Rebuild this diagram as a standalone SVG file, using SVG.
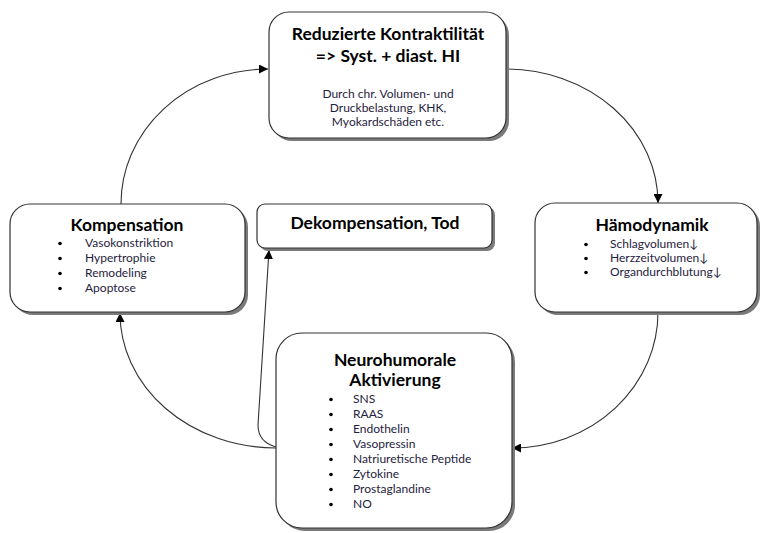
<svg xmlns="http://www.w3.org/2000/svg" width="763" height="533" viewBox="0 0 763 533">
<style>
.box{fill:#fff;stroke:#333;stroke-width:1.2}
.sh{fill:#7a7a7a}
.t{font-family:Lato,"Open Sans","Liberation Sans",sans-serif;font-weight:bold;font-size:17.5px;fill:#000;text-anchor:middle}
.s{font-family:Lato,"Open Sans","Liberation Sans",sans-serif;font-size:12px;fill:#1f2240}
.c{font-family:Lato,"Open Sans","Liberation Sans",sans-serif;font-size:12px;fill:#1f2240;text-anchor:middle}
.b{fill:#000}
.con{fill:none;stroke:#333;stroke-width:1.1;marker-end:url(#ah)}
</style>
<defs>
<marker id="ah" viewBox="0 0 10 10" refX="10" refY="5" markerWidth="9" markerHeight="9" markerUnits="userSpaceOnUse" orient="auto">
<path d="M0,0 L10,5 L0,10 Z" fill="#000"/>
</marker>
</defs>
<rect width="763" height="533" fill="#fff"/>

<g id="connectors">
<path class="con" d="M121,204 A147,135 0 0 1 268,69"/>
<path class="con" d="M506,69 A152,134 0 0 1 658,203"/>
<path class="con" d="M658,312 A146,136 0 0 1 512,448"/>
<path class="con" d="M276,448 A156,135 0 0 1 120,313"/>
<path class="con" d="M276,447 Q258,442 258,425 L269,250"/>
</g>

<g id="reduzierte">
<rect class="sh" x="272" y="15" width="237" height="126" rx="20"/>
<rect class="box" x="269" y="12" width="237" height="126" rx="20"/>
<text class="t" x="388" y="40">Reduzierte Kontraktilität</text>
<text class="t" x="388" y="62">=&gt; Syst. + diast. HI</text>
<text class="c" x="388" y="98">Durch chr. Volumen- und</text>
<text class="c" x="388" y="112">Druckbelastung, KHK,</text>
<text class="c" x="388" y="126">Myokardschäden etc.</text>
</g>

<g id="kompensation">
<rect class="sh" x="13" y="207" width="235" height="108" rx="20"/>
<rect class="box" x="10" y="204" width="235" height="108" rx="20"/>
<text class="t" x="127" y="231">Kompensation</text>
<circle class="b" cx="60" cy="243.5" r="1.8"/>
<circle class="b" cx="60" cy="258.5" r="1.8"/>
<circle class="b" cx="60" cy="273.5" r="1.8"/>
<circle class="b" cx="60" cy="288.5" r="1.8"/>
<text class="s" x="85" y="247">Vasokonstriktion</text>
<text class="s" x="85" y="262">Hypertrophie</text>
<text class="s" x="85" y="277">Remodeling</text>
<text class="s" x="85" y="292">Apoptose</text>
</g>

<g id="dekompensation">
<rect class="sh" x="260" y="207" width="235" height="44" rx="8"/>
<rect class="box" x="257" y="204" width="235" height="44" rx="8"/>
<text class="t" x="375" y="229">Dekompensation, Tod</text>
</g>

<g id="haemodynamik">
<rect class="sh" x="538" y="206" width="222" height="109" rx="20"/>
<rect class="box" x="535" y="203" width="222" height="109" rx="20"/>
<text class="t" x="652" y="231">Hämodynamik</text>
<circle class="b" cx="586" cy="244.5" r="1.8"/>
<circle class="b" cx="586" cy="258.5" r="1.8"/>
<circle class="b" cx="586" cy="272.5" r="1.8"/>
<text class="s" x="610" y="248">Schlagvolumen↓</text>
<text class="s" x="610" y="262">Herzzeitvolumen↓</text>
<text class="s" x="610" y="276">Organdurchblutung↓</text>
</g>

<g id="neurohumorale">
<rect class="sh" x="279" y="336" width="236" height="195" rx="26"/>
<rect class="box" x="276" y="333" width="236" height="195" rx="26"/>
<text class="t" x="395" y="366">Neurohumorale</text>
<text class="t" x="395" y="386">Aktivierung</text>
<circle class="b" cx="331" cy="399.5" r="1.8"/>
<circle class="b" cx="331" cy="414.5" r="1.8"/>
<circle class="b" cx="331" cy="429.5" r="1.8"/>
<circle class="b" cx="331" cy="444.5" r="1.8"/>
<circle class="b" cx="331" cy="459.5" r="1.8"/>
<circle class="b" cx="331" cy="474.5" r="1.8"/>
<circle class="b" cx="331" cy="489.5" r="1.8"/>
<circle class="b" cx="331" cy="504.5" r="1.8"/>
<text class="s" x="353" y="403">SNS</text>
<text class="s" x="353" y="418">RAAS</text>
<text class="s" x="353" y="433">Endothelin</text>
<text class="s" x="353" y="448">Vasopressin</text>
<text class="s" x="353" y="463">Natriuretische Peptide</text>
<text class="s" x="353" y="478">Zytokine</text>
<text class="s" x="353" y="493">Prostaglandine</text>
<text class="s" x="353" y="508">NO</text>
</g>
</svg>
